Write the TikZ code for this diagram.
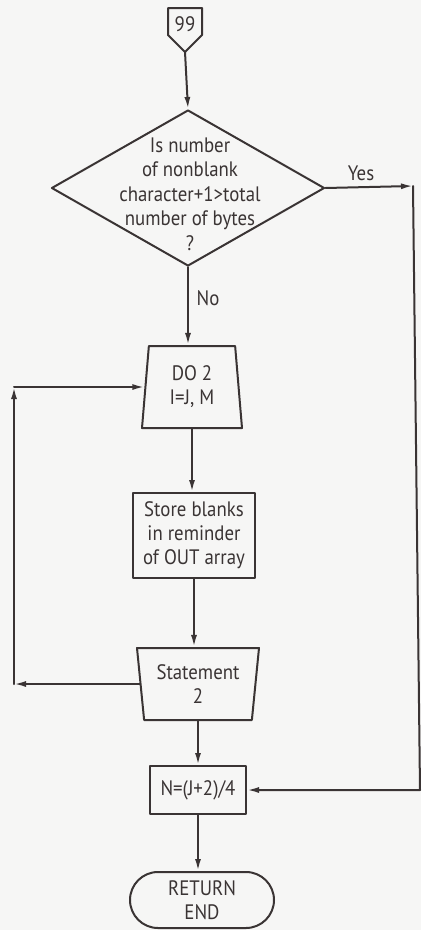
\documentclass[tikz,border=0pt]{standalone}
\usepackage{fontspec}
\setmainfont[FakeStretch=0.9]{PT Sans}
\usetikzlibrary{shapes.geometric,shapes.misc,arrows.meta}
\definecolor{ink}{HTML}{3A3434}
\definecolor{paper}{HTML}{F6F6F5}
\begin{document}
\begin{tikzpicture}[x=1bp,y=-1bp,
  every node/.style={font=\fontsize{21}{24}\selectfont, text=ink, align=center, inner sep=0pt},
  arr/.style={draw=ink, line width=2bp, line cap=round, line join=round, -{Latex[length=12bp,width=6bp]}},
  box/.style={draw=ink, line width=2bp, line join=round}]
\fill[paper] (0,0) rectangle (421,930);
\useasboundingbox (0,0) rectangle (421,930);

\draw[box] (168,8) -- (202,8) -- (202,35) -- (185,52) -- (168,35) -- cycle;
\node (p) at (185,24) {99};
\coordinate (ptip) at (185,52);

\node[box, shape=diamond, minimum width=273bp, minimum height=156bp] (q) at (188,188) {};
\node[font=\fontsize{21}{24.5}\selectfont] (qt) at (190,194) {Is number\\of nonblank\\character+1>total\\number of bytes\\?};

\node[box, trapezium, trapezium left angle=80.7, trapezium right angle=80.7, trapezium stretches body, minimum width=100bp, minimum height=82bp] (do) at (192,387) {DO 2\\I=J, M};

\node[box, rectangle, minimum width=122bp, minimum height=85bp] (st) at (194,535.5) {Store blanks\\in reminder\\of OUT array};

\node[box, trapezium, trapezium left angle=100.4, trapezium right angle=100.4, trapezium stretches body, minimum width=122bp, minimum height=72bp] (s2) at (198,684) {Statement\\2};

\node[box, rectangle, minimum width=96bp, minimum height=48bp] (n) at (198,790) {N=(J+2)/4};

\node[box, rounded rectangle, minimum width=144bp, minimum height=56bp] (t) at (202,900) {RETURN\\END};

\node (yes) at (361,173) {Yes};
\node (no) at (208,298) {No};

\coordinate (yc) at (413,186);
\coordinate (yb) at (420,790);
\coordinate (lx) at (14,0);
\coordinate (lbot) at (s2.west -| lx);
\coordinate (ltop) at (do.west -| lx);

\draw[arr] (ptip) -- (q.north);
\draw[arr] (q.east) -- (yc);
\draw[arr] (yc) -- (yb) -- (n.east);
\draw[arr] (q.south) -- (q.south |- do.north);
\draw[arr] (do.south) -- (do.south |- st.north);
\draw[arr] (st.south) -- (st.south |- s2.north);
\draw[arr] (s2.west) -- (lbot);
\draw[arr] (lbot) -- (ltop);
\draw[arr] (ltop) -- (do.west);
\draw[arr] (s2.south) -- (s2.south |- n.north);
\draw[arr] (n.south) -- (n.south |- t.north);
\end{tikzpicture}
\end{document}
